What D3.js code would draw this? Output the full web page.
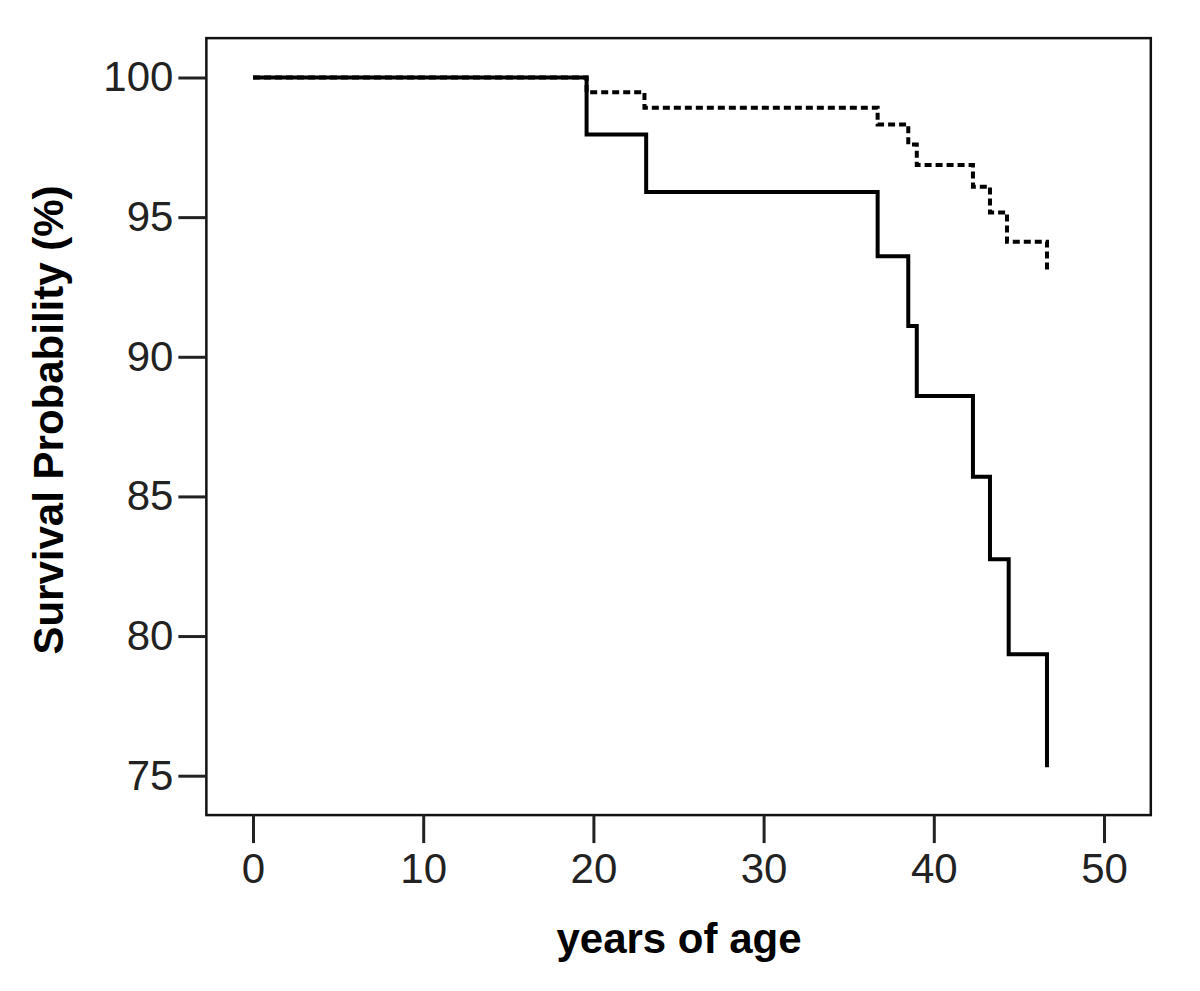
<!DOCTYPE html>
<html>
<head>
<meta charset="utf-8">
<script src="https://cdn.jsdelivr.net/npm/d3@7"></script>
<style>
  body { margin: 0; background: #fff; }
  text { font-family: "Liberation Sans", Arial, sans-serif; }
</style>
</head>
<body>
<script>
// Kaplan-Meier steps
var timesA = [0, 19.6, 23.1, 36.7, 38.5, 39.0, 42.3, 43.3, 44.4, 46.65];
var survA  = [100, 97.96, 95.9, 93.6, 91.1, 88.6, 85.7, 82.75, 79.35, 75.3];
var timesB = [0, 19.6, 23.0, 36.7, 38.5, 39.0, 42.3, 43.3, 44.3, 46.65];
var survB  = [100, 99.47, 98.92, 98.32, 97.6, 96.87, 96.09, 95.17, 94.12, 93.1];
var xTicks = [0, 10, 20, 30, 40, 50];
var yTicks = [75, 80, 85, 90, 95, 100];

function drawChart() {
    var width = 1200, height = 991;
    var svg = d3.select('body').append('svg').attr('width', width).attr('height', height);

    var x = d3.scaleLinear().domain([0, 50]).range([253, 1104]);
    var y = d3.scaleLinear().domain([75, 100]).range([775.7, 77.5]);

    // plot frame
    var fx0 = x(-2.74), fx1 = x(52.75), fy0 = y(101.41), fy1 = y(73.59);
    svg.append('rect')
        .attr('x', fx0).attr('y', fy0)
        .attr('width', fx1 - fx0).attr('height', fy1 - fy0)
        .attr('fill', 'none').attr('stroke', '#111').attr('stroke-width', 2.5);

    // axes
    var xAxis = svg.append('g')
        .attr('transform', 'translate(0,' + fy1 + ')')
        .call(d3.axisBottom(x).tickValues(xTicks).tickSize(28).tickPadding(10));
    var yAxis = svg.append('g')
        .attr('transform', 'translate(' + fx0 + ',0)')
        .call(d3.axisLeft(y).tickValues(yTicks).tickSize(28).tickPadding(5));
    [xAxis, yAxis].forEach(function(g) {
        g.select('.domain').remove();
        g.selectAll('.tick line').attr('stroke', '#222').attr('stroke-width', 3);
        g.selectAll('.tick text')
            .attr('fill', '#222')
            .style('font-size', '42px')
            .style('font-family', '"Liberation Sans", Arial, sans-serif');
    });

    var line = d3.line()
        .x(function(d) { return x(d.t) })
        .y(function(d) { return y(d.s) })
        .curve(d3.curveStepAfter);

    var dataA = timesA.map(function(t, i) { return { t: t, s: survA[i] } });
    var dataB = timesB.map(function(t, i) { return { t: t, s: survB[i] } });

    svg.append('path')
        .attr('d', line(dataA))
        .attr('fill', 'none').attr('stroke', '#000').attr('stroke-width', 4);
    svg.append('path')
        .attr('d', line(dataB))
        .attr('fill', 'none').attr('stroke', '#000').attr('stroke-width', 4)
        .attr('stroke-dasharray', '7,4');

    // axis titles
    svg.append('text')
        .attr('transform', 'translate(63,420) rotate(-90)')
        .attr('text-anchor', 'middle')
        .style('font-size', '42px').style('font-weight', 'bold')
        .text('Survival Probability (%)');
    svg.append('text')
        .attr('x', 679).attr('y', 953)
        .attr('text-anchor', 'middle')
        .style('font-size', '42px').style('font-weight', 'bold')
        .text('years of age');
}
drawChart();
</script>
</body>
</html>
